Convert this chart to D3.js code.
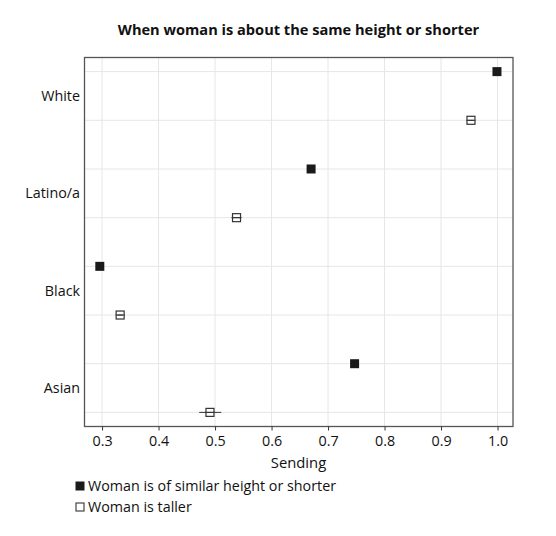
<!DOCTYPE html>
<html>
<head>
<meta charset="utf-8">
<script src="https://cdn.jsdelivr.net/npm/d3@7"></script>
<style>
body{margin:0;background:#fff;}
text{font-family:"Open Sans","Noto Sans",sans-serif;fill:#111;}
</style>
</head>
<body>
<svg id="chart" width="556" height="536"></svg>
<script>
const groups = ["White", "Latino/a", "Black", "Asian"];
const seriesNames = ["Woman is of similar height or shorter", "Woman is taller"];
const similarValues = [0.999, 0.670, 0.296, 0.747];
const tallerValues  = [0.953, 0.538, 0.332, 0.491];
const tallerLow     = [0.948, 0.529, 0.327, 0.472];
const tallerHigh    = [0.958, 0.547, 0.337, 0.511];
const xTicks = [0.3, 0.4, 0.5, 0.6, 0.7, 0.8, 0.9, 1.0];
const titleText = "When woman is about the same height or shorter";
const xLabel = "Sending";

const svg = d3.select("#chart");
const L = 84.5, R = 513, T = 57.5, B = 426.5;
const FS = 14.3;

const x = d3.scaleLinear().domain([0.2689, 1.0274]).range([L, R]);
const rows = [];
groups.forEach((g, i) => { rows.push(g + "|s"); rows.push(g + "|t"); });
const y = d3.scalePoint().domain(rows).range([T, B]).padding(0.29);

// grid
const grid = svg.append("g");
grid.selectAll("line.v").data(xTicks).join("line")
  .attr("x1", d => x(d)).attr("x2", d => x(d)).attr("y1", T).attr("y2", B)
  .attr("stroke", "#e6e6e6").attr("stroke-width", 1);
grid.selectAll("line.h").data(rows).join("line")
  .attr("x1", L).attr("x2", R).attr("y1", d => y(d)).attr("y2", d => y(d))
  .attr("stroke", "#e6e6e6").attr("stroke-width", 1);

// frame
svg.append("rect").attr("x", L).attr("y", T).attr("width", R - L).attr("height", B - T)
  .attr("fill", "none").attr("stroke", "#555").attr("stroke-width", 1.3);

// x axis
const xAxis = d3.axisBottom(x).tickValues(xTicks).tickFormat(d3.format(".1f")).tickSize(4).tickSizeOuter(0);
const gx = svg.append("g").attr("transform", `translate(0,${B})`).call(xAxis);
gx.select(".domain").remove();
gx.selectAll(".tick line").attr("stroke", "#333");
gx.selectAll(".tick text").attr("font-size", FS).attr("dy", "0.9em")
  .attr("font-family", '"Open Sans","Noto Sans",sans-serif').attr("fill", "#111");

// y labels
svg.append("g").selectAll("text").data(groups).join("text")
  .attr("x", 80).attr("y", d => (y(d + "|s") + y(d + "|t")) / 2)
  .attr("text-anchor", "end").attr("dy", "0.35em").attr("font-size", FS).text(d => d);

// CI lines
svg.append("g").selectAll("line").data(groups).join("line")
  .attr("x1", (d, i) => x(tallerLow[i])).attr("x2", (d, i) => x(tallerHigh[i]))
  .attr("y1", d => y(d + "|t")).attr("y2", d => y(d + "|t"))
  .attr("stroke", "#333").attr("stroke-width", 1);

const s = 9;
// similar - filled squares
svg.append("g").selectAll("rect").data(groups).join("rect")
  .attr("x", (d, i) => x(similarValues[i]) - s / 2).attr("y", d => y(d + "|s") - s / 2)
  .attr("width", s).attr("height", s).attr("fill", "#1a1a1a");
// taller - open squares
svg.append("g").selectAll("rect").data(groups).join("rect")
  .attr("x", (d, i) => x(tallerValues[i]) - s / 2 + 0.5).attr("y", d => y(d + "|t") - s / 2 + 0.5)
  .attr("width", s - 1).attr("height", s - 1).attr("fill", "none").attr("stroke", "#333").attr("stroke-width", 1.2);
// CI segment inside squares on top
svg.append("g").selectAll("line").data(groups).join("line")
  .attr("x1", (d, i) => x(tallerValues[i]) - s / 2).attr("x2", (d, i) => x(tallerValues[i]) + s / 2)
  .attr("y1", d => y(d + "|t")).attr("y2", d => y(d + "|t"))
  .attr("stroke", "#333").attr("stroke-width", 1);

// title
svg.append("text").attr("x", 298.5).attr("y", 35).attr("text-anchor", "middle")
  .attr("font-size", 14.6).attr("font-weight", "bold").text(titleText);

// x label
svg.append("text").attr("x", 298.5).attr("y", 468).attr("text-anchor", "middle")
  .attr("font-size", 14.8).text(xLabel);

// legend
const leg = svg.append("g");
seriesNames.forEach((nm, i) => {
  const yy = 486 + i * 21;
  leg.append("rect").attr("x", i === 0 ? 75.5 : 76).attr("y", yy - 4.5 + (i===0?0:0.5))
    .attr("width", i === 0 ? 9 : 8).attr("height", i === 0 ? 9 : 8)
    .attr("fill", i === 0 ? "#1a1a1a" : "none").attr("stroke", i === 0 ? "none" : "#333").attr("stroke-width", 1.1);
  leg.append("text").attr("x", 88).attr("y", yy).attr("dy", "0.35em").attr("font-size", FS).text(nm);
});
</script>
</body>
</html>
